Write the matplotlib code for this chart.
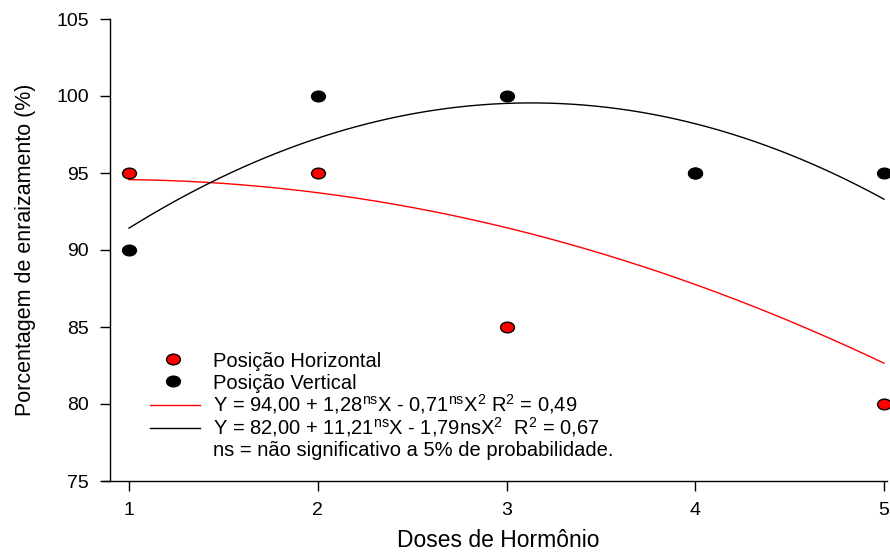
import numpy as np
import matplotlib
matplotlib.use("Agg")
import matplotlib.pyplot as plt
from matplotlib.lines import Line2D
from matplotlib.path import Path
from matplotlib.transforms import Affine2D

plt.rcParams['font.family'] = ['Liberation Sans', 'DejaVu Sans']
plt.rcParams['mathtext.fontset'] = 'custom'
plt.rcParams['mathtext.rm'] = 'Liberation Sans'
plt.rcParams['mathtext.it'] = 'Liberation Sans'
plt.rcParams['mathtext.bf'] = 'Liberation Sans:bold'

# Data
doses = [1, 2, 3, 4, 5]
horizontal = [95, 95, 85, 95, 80]
vertical = [90, 100, 100, 95, 95]
# Regression coefficients (c0, c1, c2) printed in the chart
coef_horizontal = [94.00, 1.28, -0.71]
coef_vertical = [82.00, 11.21, -1.79]
label_h = 'Posição Horizontal'
label_v = 'Posição Vertical'
label_eq_h = r'Y = 94,00 + 1,28$^{\mathrm{ns}}$X - 0,71$^{\mathrm{ns}}$X$^{2}$ R$^{2}$ = 0,49'
label_eq_v = r'Y = 82,00 + 11,21$^{\mathrm{ns}}$X - 1,79nsX$^{2}$  R$^{2}$ = 0,67'
label_note = 'ns = não significativo a 5% de probabilidade.'
yticks = [75, 80, 85, 90, 95, 100, 105]

W, H = 890, 553
fig = plt.figure(figsize=(W / 100, H / 100), dpi=100)
# axes box in pixels (x-axis line starts a little left of the y spine)
ax_l, ax_r, ax_t, ax_b = 103, 887, 19, 481
ax = fig.add_axes([ax_l / W, 1 - ax_b / H, (ax_r - ax_l) / W, (ax_b - ax_t) / H])

# slightly wide ellipse marker (the reference's dots are wider than tall)
ell = Path.unit_circle().transformed(Affine2D().scale(1.3, 1.0))

xs = np.linspace(min(doses), max(doses), 200)
yh = np.polyval(coef_horizontal[::-1], xs)
yv = np.polyval(coef_vertical[::-1], xs)

ax.plot(xs, yh, color='red', lw=1.0, zorder=2, clip_on=False)
ax.plot(xs, yv, color='black', lw=1.0, zorder=2, clip_on=False)
ax.plot(doses, horizontal, ls='none', marker=ell, ms=10, mfc='red', mec='black', mew=1.0,
        zorder=3, clip_on=False)
ax.plot(doses, vertical, ls='none', marker=ell, ms=10, mfc='black', mec='black', mew=1.0,
        zorder=4, clip_on=False)

x1_px, x5_px = 129, 884
ppu = (x5_px - x1_px) / 4.0
ax.set_xlim(1 - (x1_px - ax_l) / ppu, 5 + (ax_r - x5_px) / ppu)
ax.set_ylim(75, 105)
ax.spines['left'].set_position(('data', 1 - (x1_px - 110) / ppu))
ax.set_xticks(doses)
ax.set_yticks(yticks)
ax.tick_params(direction='out', length=7, width=1, labelsize=14)
ax.tick_params(axis='y', pad=8)
ax.tick_params(axis='x', pad=8)
for s in ['top', 'right']:
    ax.spines[s].set_visible(False)
for s in ['left', 'bottom']:
    ax.spines[s].set_linewidth(1.0)

ax.set_ylabel('Porcentagem de enraizamento (%)', fontsize=15.5)
ax.yaxis.set_label_coords((36 - ax_l) / (ax_r - ax_l), 0.5)
ax.set_xlabel('Doses de Hormônio', fontsize=16.5, va='baseline')
ax.xaxis.set_label_coords((498 - ax_l) / (ax_r - ax_l), -(547 - ax_b) / (ax_b - ax_t))

# legend drawn row by row (pixel layout of the reference)
def fx(px):
    return (px - ax_l) / (ax_r - ax_l)

def fy(py):
    return (ax_b - py) / (ax_b - ax_t)

tr = ax.transAxes
rows_base = [367, 389, 411, 434, 456]
labels = [label_h, label_v, label_eq_h, label_eq_v, label_note]
fs_leg = 14.5
for yb, lab in zip(rows_base, labels):
    ax.text(fx(213), fy(yb), lab, transform=tr, fontsize=fs_leg, va='baseline', ha='left')
ax.add_line(Line2D([fx(173)], [fy(rows_base[0] - 8)], transform=tr, ls='none', marker=ell, ms=10,
                   mfc='red', mec='black', mew=1.0, clip_on=False))
ax.add_line(Line2D([fx(173)], [fy(rows_base[1] - 8)], transform=tr, ls='none', marker=ell, ms=10,
                   mfc='black', mec='black', mew=1.0, clip_on=False))
ax.add_line(Line2D([fx(150), fx(200)], [fy(rows_base[2] - 6)] * 2, transform=tr, color='red', lw=1.0))
ax.add_line(Line2D([fx(150), fx(200)], [fy(rows_base[3] - 6)] * 2, transform=tr, color='black', lw=1.0))

fig.savefig('out.png', dpi=100)
